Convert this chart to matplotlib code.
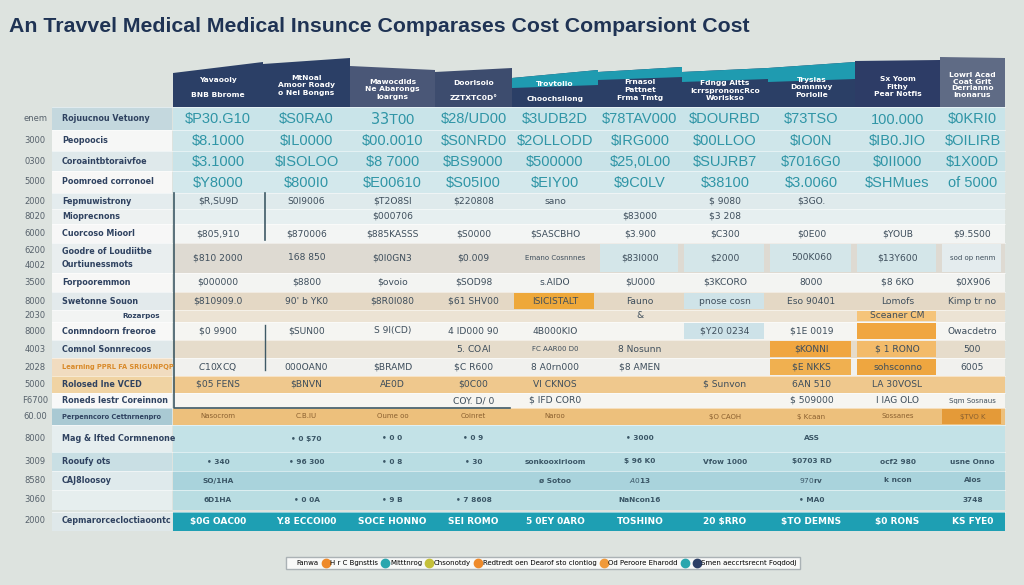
import matplotlib
matplotlib.use('Agg')
from matplotlib import pyplot as plt
from matplotlib.patches import Rectangle
from matplotlib.lines import Line2D

title = 'An Travvel Medical Medical Insunce Comparases Cost Comparsiont Cost'

col_headers = [
    'Yavaooly\n\nBNB Bbrome',
    'MtNoal\nAmoor Roady\no Nei Bongns',
    'Mawocdlds\nNe Abarongs\nloargns',
    'Doorlsoio\n\nZZTXTC0D°',
    'Trovtolio\n\nChoochsllong',
    'Frnasol\nPattnet\nFrma Tmtg',
    'Fdngg Altts\nIcrrsprononcRco\nWoriskso',
    'Trysias\nDomnmvy\nPorlolle',
    'Sx Yoom\nFithy\nPear Notfis',
    'Lowrl Acad\nCoat Grit\nDerrlanno\nInonarus',
]

row_labels = [
    'Rojuucnou Vetuony', 'Peopoocis', 'Coroaintbtoraivfoe', 'Poomroed corronoel',
    'Fepmuwistrony', 'Mioprecnons', 'Cuorcoso Mioorl',
    'Goodre of Loudiitbe\nOurtiunessmots', 'Forpooremmon', 'Swetonne Souon',
    'Rozarpos', 'Conmndoorn freoroe', 'Comnol Sonnrecoos',
    'Learning PPRL FA SRIGUNPQP', 'Rolosed Ine VCED', 'Roneds lestr Coreinnon',
    'Perpenncoro Cettnrnenpro', 'Mag & Ifted Cormnenone', 'Rooufy ots',
    'CAJ8loosoy', '', 'Cepmarorcecloctiaoontc',
]

left_numbers = ['enem', '3000', '0300', '5000', '2000', '8020', '6000', '6200\n4002',
                '3500', '8000', '2030', '8000', '4003', '2028', '5000', 'F6700',
                '60.00', '8000', '3009', '8580', '3060', '2000']

cell_values = [
    ['$P30.G10', '$S0RA0', '$33$T00', '$28/UD00', '$3UDB2D', '$78TAV000', '$DOURBD', '$73TSO', '100.000', '$0KRI0'],
    ['$8.1000', '$IL0000', '$00.0010', '$S0NRD0', '$2OLLODD', '$IRG000', '$00LLOO', '$IO0N', '$IB0.JIO', '$OILIRB'],
    ['$3.1000', '$ISOLOO', '$8 7000', '$BS9000', '$500000', '$25,0L00', '$SUJRB7', '$7016G0', '$0II000', '$1X00D'],
    ['$Y8000', '$800I0', '$E00610', '$S05I00', '$EIY00', '$9C0LV', '$38100', '$3.0060', '$SHMues', 'of 5000'],
    ['$R,SU9D', 'S0I9006', '$T2O8SI', '$220808', 'sano', '', '$ 9080', '$3GO.', '', ''],
    ['', '', '$000706', '', '', '$83000', '$3 208', '', '', ''],
    ['$805,910', '$870006', '$885KASSS', '$S0000', '$SASCBHO', '$3.900', '$C300', '$0E00', '$YOUB', '$9.5S00'],
    ['$810 2000', '168 850', '$0I0GN3', '$0.009', 'Emano Cosnnnes', '$83I000', '$2000', '500K060', '$13Y600', 'sod op nenm'],
    ['$000000', '$8800', '$ovoio', '$SOD98', 's.AIDO', '$U000', '$3KCORO', '8000', '$8 6KO', '$0X906'],
    ['$810909.0', "90' b YK0", '$8R0I080', '$61 SHV00', 'ISICISTALT', 'Fauno', 'pnose cosn', 'Eso 90401', 'Lomofs', 'Kimp tr no'],
    ['', '', '', '', '', '&', '', '', 'Sceaner CM', ''],
    ['$0 9900', '$SUN00', 'S 9I(CD)', '4 ID000 90', '4B000KIO', '', '$Y20 0234', '$1E 0019', '', 'Owacdetro'],
    ['', '', '', '$5$. COAI', 'FC AAR00 D0', '8 Nosunn', '', '$KONNI', '$ 1 RONO', '500'],
    ['$C10 $XCQ', '000OAN0', '$BRAMD', '$C R600', '8 A0rn000', '$8 AMEN', '', '$E NKKS', 'sohsconno', '6005'],
    ['$05 FENS', '$BNVN', 'AE0D', '$0C00', 'VI CKNOS', '', '$ Sunvon', '6AN 510', 'LA 30VOSL', ''],
    ['', '', '', 'COY. D/ 0', '$ IFD COR0', '', '', '$ 509000', 'I IAG OLO', 'Sqm Sosnaus'],
    ['Nasocrom', 'C.B.IU', 'Oume oo', 'Coinret', 'Naroo', '', '$O CAOH', '$ Kcaan', 'Sossanes', '$TVO K'],
    ['', '• 0 $70', '• 0 0', '• 0 9', '', '• 3000', '', 'ASS', '', ''],
    ['• 340', '• 96 300', '• 0 8', '• 30', 'sonkooxirioom', '$ 96 K0', 'Vfow 1000', '$0703 RD', 'ocf2 980', 'usne Onno'],
    ['SO/1HA', '', '', '', 'ø Sotoo', '$A0 $13', '', '$97 0 $rv', 'k ncon', 'Alos'],
    ['6D1HA', '• 0 0A', '• 9 B', '• 7 8608', '', 'NaNcon16', '', '• MA0', '', '3748'],
    ['$0G OAC00', 'Y.8 ECCOI00', 'SOCE HONNO', 'SEI ROMO', '5 0EY 0ARO', 'TOSHINO', '20 $RRO', '$TO DEMNS', '$0 RONS', 'KS FYE0'],
]

legend_labels = ['Fanwa', 'H r C Bgnsttis', 'Mitttnrog', 'Chsonotdy',
                 'Redtredt oen Dearof sto clontiog', 'Od Peroore Eharodd', '',
                 'Smen aeccrtsrecnt Foqdodj']
legend_colors = ['none', '#ee8a2a', '#2aa6ae', '#c4c03a', '#ee8a2a', '#f09a3a', '#2aa6ae', '#2b3f66']

# layout (pixels)
col_edges = [173, 263, 350, 435, 512, 598, 682, 768, 855, 940, 1005]
row_edges = [107, 130, 151, 171, 193, 209, 224, 243, 273, 292, 310, 322, 340, 358,
             376, 393, 408, 425, 452, 471, 490, 510, 531]
header_tops = [(73, 62), (64, 58), (66, 70), (72, 68), (78, 70), (72, 67),
               (72, 68), (68, 62), (61, 60), (57, 58)]
header_colors = ['#2b3f66', '#2b3f66', '#4a5777', '#3d4c6e', '#2b3f66', '#2b3f66',
                 '#2b3f66', '#2b3f66', '#2d3c66', '#5f6b85']
header_teal = {4: 88, 5: 80, 6: 82, 7: 82}

row_colors = ['#c9e4e9', '#cfe6ea', '#c9e3e8', '#d3e8ec', '#dfeaec', '#e6eff0',
              '#f3f5f4', '#dedad2', '#f3f4f2', '#e4d8c5', '#ece3d4', '#f5f5f2',
              '#e6dccb', '#f1f1ee', '#efc88d', '#f6f5f1', '#edc07c', '#c3e2e7',
              '#b9dde3', '#a9d3dc', '#b9dde2', '#1e9fb3']
label_colors = ['#c4d8de', '#f6f7f6', '#dfe9eb', '#f7f7f6', '#e4ecee', '#edf1f1',
                '#f7f7f7', '#e9eeef', '#f7f7f6', '#e3eaec', '#f2f4f3', '#f8f8f7',
                '#dfe8ea', '#f1dcc0', '#f0d3a3', '#f8f8f8', '#a9c9d3', '#e6eeef',
                '#c9dfe4', '#dfeaec', '#e6eeee', '#dfe8ea']
cell_overrides = {(9, 4): '#eea83a', (9, 6): '#cfe3e8', (10, 8): '#f5c47a',
                  (11, 8): '#f0a640', (11, 6): '#cde2e8', (12, 7): '#f0a640',
                  (12, 8): '#f3bb6a', (13, 7): '#f0b050', (13, 8): '#eea640',
                  (16, 9): '#e49a38', (7, 5): '#d4e6e9', (7, 6): '#d4e6e9',
                  (7, 7): '#d4e6e9', (7, 8): '#d4e6e9', (7, 9): '#e4ecee'}

fig = plt.figure(figsize=(10.24, 5.85), dpi=100)
fig.patch.set_facecolor('#dde3df')
ax = fig.add_axes([0, 0, 1, 1])
ax.set_xlim(0, 1024)
ax.set_ylim(585, 0)
ax.axis('off')

ax.text(9, 27, title, fontsize=15.3, fontweight='bold', color='#1f3354',
        family=['Liberation Sans', 'DejaVu Sans'], va='center', ha='left')

# headers
for j, head in enumerate(col_headers):
    x0, x1 = col_edges[j], col_edges[j + 1]
    t0, t1 = header_tops[j]
    ax.fill([x0, x1, x1, x0], [t0, t1, 107, 107], color=header_colors[j], lw=0)
    if j in header_teal:
        s = header_teal[j]
        ax.fill([x0, x1, x1, x0], [t0, t1, s - 3, s], color='#1f9bb0', lw=0)
    ax.text((x0 + x1) / 2, (min(t0, t1) + 107) / 2 + 3, head, color='white',
            fontsize=5.4, fontweight='bold', ha='center', va='center',
            linespacing=1.15 if head.count('\n') > 2 else 1.35)

# rows
for i, label in enumerate(row_labels):
    y0, y1 = row_edges[i], row_edges[i + 1]
    yc = (y0 + y1) / 2
    last = i == len(row_labels) - 1
    if last:
        y0 += 2
    ax.add_patch(Rectangle((52, y0), 120, y1 - y0, color=label_colors[i], lw=0))
    ax.add_patch(Rectangle((col_edges[0], y0), col_edges[-1] - col_edges[0], y1 - y0,
                           color=row_colors[i], lw=0))
    for j in range(len(col_headers)):
        if (i, j) in cell_overrides:
            ax.add_patch(Rectangle((col_edges[j] + 2, y0 + 1), col_edges[j + 1] - col_edges[j] - 6,
                                   y1 - y0 - 2, color=cell_overrides[(i, j)], lw=0))
    ax.axhline(y0, xmin=52 / 1024, xmax=1005 / 1024, color='white', lw=0.6, alpha=0.6)

    # row label
    lcolor = '#d98a2a' if i == 13 else '#2f4260'
    if i == 10:
        ax.text(160, yc, label, fontsize=5.2, color=lcolor, ha='right', va='center', fontweight='bold')
    else:
        longest = max(len(part) for part in label.split('\n'))
        fs = 4.8 if longest > 22 else 5.8
        ax.text(62, yc, label, fontsize=fs, color=lcolor, ha='left', va='center',
                fontweight='bold', linespacing=1.6)
    ax.text(35, yc, left_numbers[i], fontsize=6.0, color='#56616b', ha='center', va='center',
            linespacing=1.9)

    for j, val in enumerate(cell_values[i]):
        if not val:
            continue
        xc = (col_edges[j] + col_edges[j + 1]) / 2
        if i <= 3:
            ax.text(xc, yc + 1, val, fontsize=10.5, color='#2f95a6', ha='center', va='center',
                    family=['Liberation Sans', 'DejaVu Sans'])
        elif last:
            ax.text(xc, yc + 1, val, fontsize=6.5, color='white', ha='center', va='center',
                    fontweight='bold')
        elif i == 16:
            ax.text(xc, yc, val, fontsize=5.0, color='#8a6030', ha='center', va='center')
        elif i >= 17:
            ax.text(xc, yc, val, fontsize=5.3, color='#3a5666', ha='center', va='center',
                    fontweight='bold')
        else:
            small = len(val) > 10
            ax.text(xc, yc, val, fontsize=5.0 if small else 6.6, color='#3e4e5c',
                    ha='center', va='center')

# frame lines inside the table
ax.plot([174, 174, 510], [193, 408, 408], color='#3f5a66', lw=1.2)
ax.plot([265, 265], [193, 240], color='#3f5a66', lw=1.2)
ax.plot([265, 265], [325, 370], color='#3f5a66', lw=1.0)

# legend
handles = [Line2D([], [], marker='o', ls='', markersize=6, color=c,
                  markerfacecolor=c) for c in legend_colors]
ax.legend(handles, legend_labels, loc='center', bbox_to_anchor=(543, 563),
          bbox_transform=ax.transData, ncol=len(legend_labels), fontsize=5.0,
          frameon=True, fancybox=False, edgecolor='#9aa3a8', facecolor='white',
          handletextpad=0.3, columnspacing=0.7, handlelength=0.7, borderpad=0.5)

plt.savefig('out.png', dpi=100, facecolor=fig.get_facecolor())
